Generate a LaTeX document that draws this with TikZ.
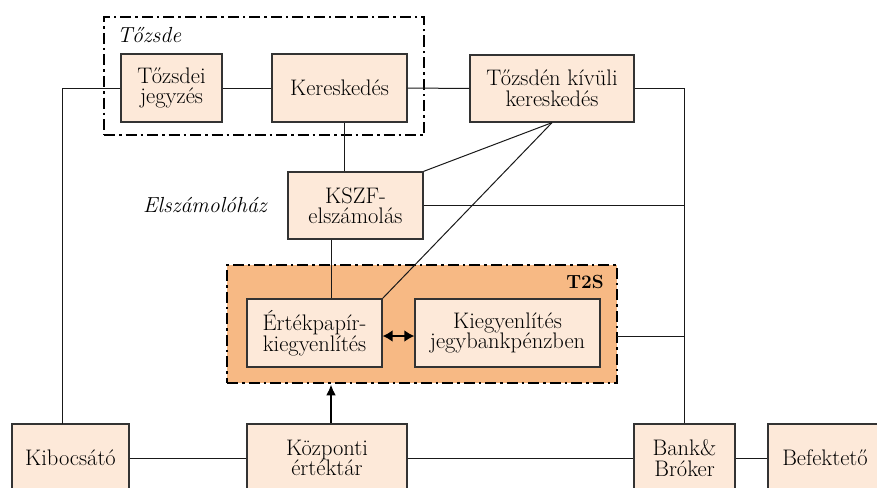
\documentclass[tikz,border=0pt]{standalone}
\usepackage{fontspec}
\usetikzlibrary{arrows.meta}
\definecolor{boxfill}{HTML}{FDE9D9}
\definecolor{tfill}{HTML}{F7B984}
\definecolor{edge}{HTML}{333333}
\tikzset{
  box/.style={draw=edge, line width=1.3pt, fill=boxfill, inner sep=0pt, align=center,
    font=\fontsize{22.5}{20.5}\selectfont},
  conn/.style={line width=1pt, draw=black!90},
  dashdot/.style={line width=2.8pt, dash pattern=on 11pt off 4pt on 2.5pt off 4pt},
  lbl/.style={font=\fontsize{21.8}{21.8}\selectfont\itshape, inner sep=0pt},
  thickarrow/.style={line width=2.2pt, -{Latex[length=11pt,width=10pt]}},
  dblarrow/.style={line width=2.8pt, {Latex[length=10pt,width=12pt]}-{Latex[length=10pt,width=12pt]}},
}
\begin{document}
\begin{tikzpicture}[x=1pt,y=-1pt]
\useasboundingbox (0,0) rectangle (877,487);
\clip (0,0) rectangle (877,487);

% frames
\node[draw, dashdot, fill=tfill, minimum width=390pt, minimum height=118pt, inner sep=0pt] (t2s) at (422,324) {};
\node[draw, dashdot, minimum width=320pt, minimum height=118pt, inner sep=0pt] (tozsde) at (264,76) {};

% labels
\node[lbl, anchor=base west] (ltozsde) at (117,43) {Tőzsde};
\node[lbl, anchor=base west] (lelsz) at (143,212) {Elszámolóház};
\node[font=\fontsize{19}{19}\selectfont\bfseries, inner sep=0pt, anchor=base east] (lt2s) at (604,288) {T2S};

% boxes
\node[box, minimum width=101pt, minimum height=68pt] (tj) at (171.5,88) {Tőzsdei\\jegyzés};
\node[box, minimum width=135pt, minimum height=68pt] (ker) at (339.5,88) {Kereskedés};
\node[box, minimum width=164pt, minimum height=67pt] (tkk) at (552,88.5) {Tőzsdén kívüli\\kereskedés};
\node[box, minimum width=135pt, minimum height=67pt] (kszf) at (355.5,205.5) {KSZF-\\elszámolás};
\node[box, minimum width=135pt, minimum height=68pt] (ep) at (314.5,333) {Értékpapír-\\kiegyenlítés};
\node[box, minimum width=185pt, minimum height=68pt] (kg) at (507.5,333) {Kiegyenlítés\\jegybankpénzben};
\node[box, minimum width=117pt, minimum height=68pt] (kib) at (70.5,458) {Kibocsátó};
\node[box, minimum width=160pt, minimum height=68pt] (kozp) at (327,458) {Központi\\értéktár};
\node[box, minimum width=101pt, minimum height=68pt] (bank) at (684.5,458) {Bank\&\\Bróker};
\node[box, minimum width=114pt, minimum height=68pt] (bef) at (825,458) {Befektető};

% helper coordinates
\coordinate (kibtop) at (62,424);
\coordinate (vx) at (331,0);
\coordinate (kx) at (344,0);
\coordinate (r1) at (617,336);

% connectors
\draw[conn] (tj.west) -| (kibtop);
\draw[conn] (tj.east) -- (ker.west);
\draw[conn] (ker.east) -- (tkk.west);
\draw[conn] (tkk.east) -| (bank.north);
\draw[conn] (ker.south -| kx) -- (kszf.north -| kx);
\draw[conn] (kszf.north east) -- (tkk.south);
\draw[conn] (kszf.east) -- (kszf.east -| bank.north);
\draw[conn] (kszf.south -| vx) -- (ep.north -| vx);
\draw[conn] (ep.north east) -- (tkk.south);
\draw[conn] (r1) -- (r1 -| bank.north);
\draw[conn] (kib.east) -- (kozp.west);
\draw[conn] (kozp.east) -- (bank.west);
\draw[conn] (bank.east) -- (bef.west);
\draw[dblarrow] ([yshift=-3pt]ep.east) -- ([yshift=-3pt]kg.west);
\draw[thickarrow] (kozp.north -| vx) -- (t2s.south -| vx);
\end{tikzpicture}
\end{document}
